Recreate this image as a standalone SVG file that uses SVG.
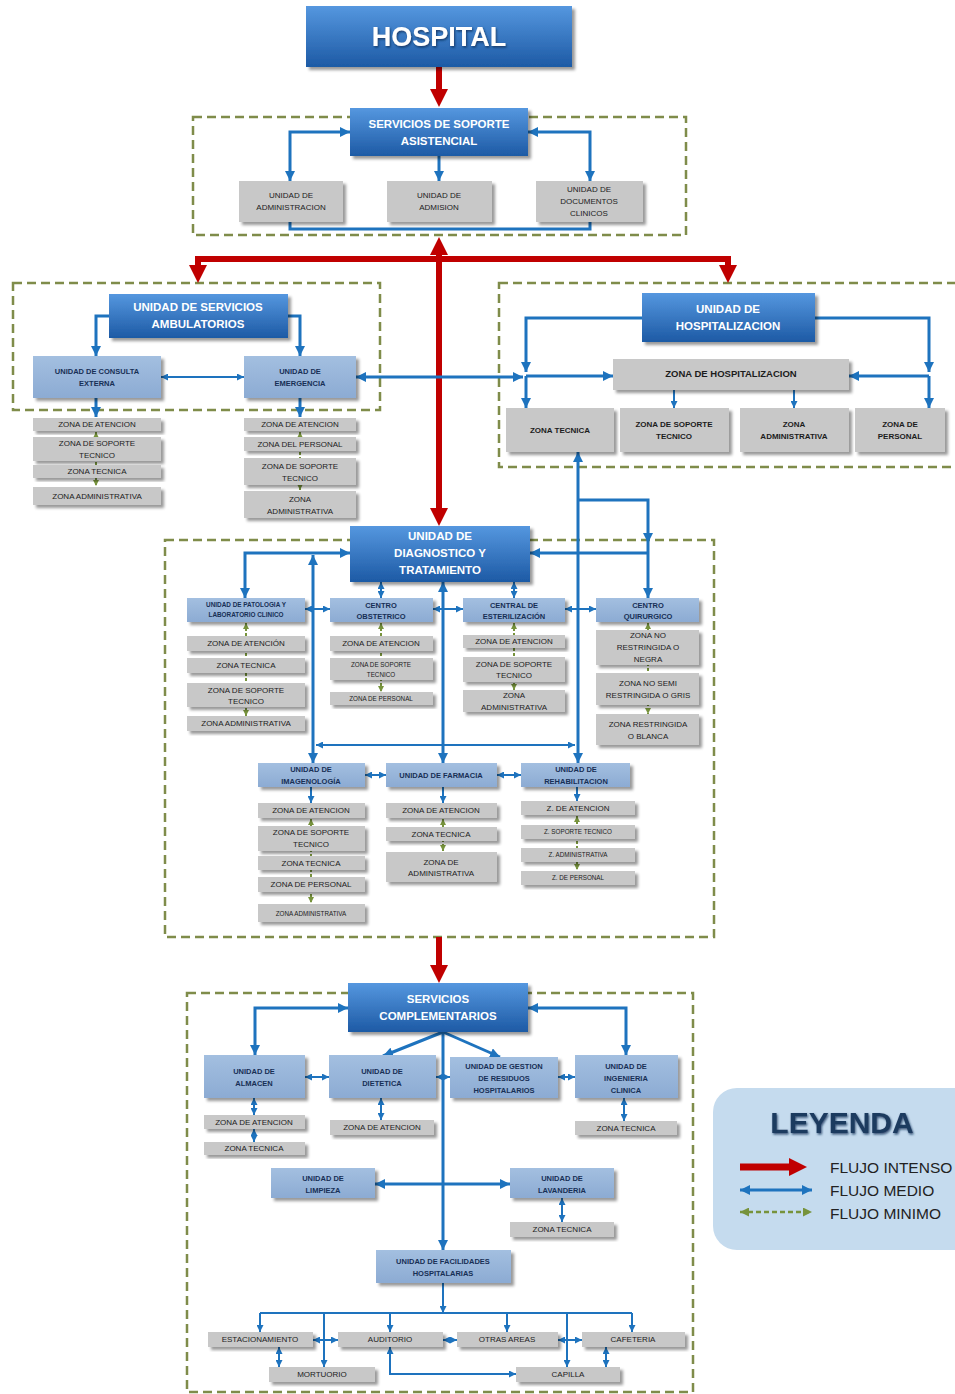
<svg xmlns="http://www.w3.org/2000/svg" width="955" height="1394" viewBox="0 0 955 1394">
<defs>
<linearGradient id="gdk" x1="0" y1="0" x2="0" y2="1"><stop offset="0" stop-color="#5597df"/><stop offset="1" stop-color="#1d5aa5"/></linearGradient>
<linearGradient id="glb" x1="0" y1="0" x2="0" y2="1"><stop offset="0" stop-color="#a3bfe0"/><stop offset="1" stop-color="#8cabd3"/></linearGradient>
<filter id="sh" x="-10%" y="-10%" width="130%" height="140%"><feDropShadow dx="3" dy="3" stdDeviation="1.5" flood-color="#000" flood-opacity="0.4"/></filter>
<filter id="ts" x="-10%" y="-20%" width="130%" height="150%"><feDropShadow dx="1" dy="1.5" stdDeviation="1" flood-color="#0b2a55" flood-opacity="0.8"/></filter>
<marker id="mb" viewBox="0 0 10 10" refX="10" refY="5" markerWidth="10" markerHeight="10" markerUnits="userSpaceOnUse" orient="auto-start-reverse"><path d="M0,0L10,5L0,10z" fill="#1e73be"/></marker>
<marker id="ms" viewBox="0 0 10 10" refX="10" refY="5" markerWidth="7" markerHeight="7" markerUnits="userSpaceOnUse" orient="auto-start-reverse"><path d="M0,0L10,5L0,10z" fill="#1e73be"/></marker>
<marker id="mr" viewBox="0 0 18 18" refX="8" refY="9" markerWidth="18" markerHeight="18" markerUnits="userSpaceOnUse" orient="auto-start-reverse"><path d="M0,0L18,9L0,18z" fill="#c00000"/></marker>
<marker id="mg" viewBox="0 0 10 10" refX="10" refY="5" markerWidth="6" markerHeight="6" markerUnits="userSpaceOnUse" orient="auto-start-reverse"><path d="M0,0L10,5L0,10z" fill="#77933c"/></marker>
<marker id="mgl" viewBox="0 0 10 10" refX="10" refY="5" markerWidth="9" markerHeight="9" markerUnits="userSpaceOnUse" orient="auto-start-reverse"><path d="M0,0L10,5L0,10z" fill="#77933c"/></marker>
</defs>
<style>
text{font-family:"Liberation Sans",Arial,sans-serif;text-anchor:middle}
.dk rect{fill:url(#gdk);filter:url(#sh)}
.dk text{font-weight:bold;font-size:11.5px;fill:#fff}
.lb rect{fill:url(#glb);filter:url(#sh)}
.lb text{font-weight:bold;font-size:7.5px;fill:#172f55}
.gr rect{fill:#c8c8c8;filter:url(#sh)}
.gr text{font-size:8px;fill:#1c1c1c}
.gb text{font-weight:bold}
.t6 text{font-size:6.3px}
.cont{fill:none;stroke:#7f8c4a;stroke-width:2.5;stroke-dasharray:9 5}
.b{stroke:#1e73be;stroke-width:3;fill:none}
.bs{stroke:#1e73be;stroke-width:2;fill:none}
.r{stroke:#c00000;stroke-width:6;fill:none}
.g{stroke:#77933c;stroke-width:2;stroke-dasharray:3 2;fill:none}
.me{marker-end:url(#mb)}
.mse{marker-start:url(#mb);marker-end:url(#mb)}
.se{marker-start:url(#ms);marker-end:url(#ms)}
.e{marker-end:url(#ms)}
.re{marker-end:url(#mr)}
.rse{marker-start:url(#mr);marker-end:url(#mr)}
.gse{marker-start:url(#mg);marker-end:url(#mg)}
.lt{text-anchor:start;font-size:15.5px;fill:#222}
</style>
<rect width="955" height="1394" fill="#fff"/>

<g id="containers">
<rect class="cont" x="193" y="117" width="493" height="118"/>
<rect class="cont" x="13" y="283" width="367" height="127"/>
<rect class="cont" x="499" y="283" width="470" height="184"/>
<rect class="cont" x="165" y="540" width="549" height="397"/>
<rect class="cont" x="187" y="993" width="506" height="399"/>
</g>

<g id="connectors">
<path class="r re" d="M439,67V97"/>
<path class="r rse" d="M439,247V516"/>
<path class="r rse" d="M198,273V259H728V273"/>
<path class="r re" d="M439,937V973"/>

<path class="b mse" d="M350,132H290V181"/>
<path class="b mse" d="M528,132H590V181"/>
<path class="b me" d="M439,156V181"/>
<path class="b" d="M290,222V229H590V222"/>

<path class="b me" d="M109,316H96V356"/>
<path class="b me" d="M288,316H300V356"/>
<path class="bs se" d="M161,377H244"/>
<path class="b me" d="M96,398V417"/>
<path class="b me" d="M300,398V417"/>
<path class="b mse" d="M356,377H523"/>
<path class="b me" d="M526,376H613"/>
<path class="b me" d="M642,318H526V372"/>
<path class="b me" d="M526,376V408"/>
<path class="b me" d="M815,318H929V372"/>
<path class="b me" d="M929,376H849"/>
<path class="b me" d="M929,376V408"/>
<path class="bs e" d="M674,390V408"/>
<path class="bs e" d="M794,390V408"/>

<path class="b mse" d="M578,452V763"/>
<path class="b me" d="M578,500H648V543"/>
<path class="b me" d="M648,543V598"/>
<path class="b me" d="M648,553H530"/>
<path class="b mse" d="M350,553H245V598"/>
<path class="b mse" d="M313,555V763"/>
<path class="bs se" d="M316,745H575"/>
<path class="b mse" d="M443,582V763"/>
<path class="bs se" d="M381,582V598"/>
<path class="bs se" d="M514,582V598"/>
<path class="bs se" d="M305,609H330"/>
<path class="bs se" d="M433,609H463"/>
<path class="bs se" d="M565,609H596"/>
<path class="bs se" d="M365,775H386"/>
<path class="bs se" d="M497,775H521"/>
<path class="bs e" d="M311,787V803"/>
<path class="bs e" d="M443,787V803"/>
<path class="bs e" d="M577,787V801"/>

<path class="g gse" d="M96,432V486"/>
<path class="g gse" d="M300,432V490"/>
<path class="g gse" d="M246,623V716"/>
<path class="g gse" d="M381,623V692"/>
<path class="g gse" d="M514,623V690"/>
<path class="g gse" d="M648,623V714"/>
<path class="g gse" d="M311,819V903"/>
<path class="g gse" d="M443,819V851"/>
<path class="g gse" d="M577,816V870"/>

<path class="b mse" d="M348,1008H255V1055"/>
<path class="b mse" d="M528,1008H626V1055"/>
<path class="b me" d="M443,1032L383,1056"/>
<path class="b me" d="M443,1032L500,1057"/>
<path class="b me" d="M443,1032V1250"/>
<path class="bs se" d="M305,1077H329"/>
<path class="bs se" d="M436,1077H450"/>
<path class="bs se" d="M558,1077H575"/>
<path class="bs se" d="M254,1098V1115"/>
<path class="bs se" d="M254,1129V1142"/>
<path class="bs se" d="M381,1098V1120"/>
<path class="bs se" d="M624,1098V1121"/>
<path class="b mse" d="M375,1184H510"/>
<path class="bs se" d="M562,1198V1222"/>
<path class="bs e" d="M443,1283V1313"/>
<path class="bs" d="M260,1313H632"/>
<path class="bs e" d="M260,1313V1332"/>
<path class="bs e" d="M390,1313V1332"/>
<path class="bs e" d="M507,1313V1332"/>
<path class="bs e" d="M632,1313V1332"/>
<path class="bs e" d="M324,1313V1367"/>
<path class="bs e" d="M567,1313V1367"/>
<path class="bs se" d="M313,1340H338"/>
<path class="bs se" d="M443,1340H457"/>
<path class="bs se" d="M558,1340H582"/>
<path class="bs se" d="M279,1347V1367"/>
<path class="bs se" d="M390,1347V1374H516"/>
<path class="bs se" d="M606,1347V1367"/>
</g>

<g id="hospital" class="dk"><rect x="306" y="6" width="266" height="61"/><text x="439" y="46" style="font-size:27px;filter:url(#ts)">HOSPITAL</text></g>
<g id="ssa" class="dk"><rect x="350" y="108" width="178" height="48"/><text x="439" y="128">SERVICIOS DE SOPORTE</text><text x="439" y="145">ASISTENCIAL</text></g>
<g id="u-admin" class="gr"><rect x="239" y="181" width="104" height="41"/><text x="291" y="198">UNIDAD DE</text><text x="291" y="210">ADMINISTRACION</text></g>
<g id="u-admision" class="gr"><rect x="387" y="181" width="105" height="41"/><text x="439" y="198">UNIDAD DE</text><text x="439" y="210">ADMISION</text></g>
<g id="u-docs" class="gr"><rect x="536" y="181" width="107" height="41"/><text x="589" y="192">UNIDAD DE</text><text x="589" y="204">DOCUMENTOS</text><text x="589" y="216">CLINICOS</text></g>

<g id="usa" class="dk"><rect x="109" y="294" width="179" height="44"/><text x="198" y="311">UNIDAD DE SERVICIOS</text><text x="198" y="328">AMBULATORIOS</text></g>
<g id="consulta" class="lb"><rect x="33" y="356" width="128" height="42"/><text x="97" y="374">UNIDAD DE CONSULTA</text><text x="97" y="386">EXTERNA</text></g>
<g id="emergencia" class="lb"><rect x="244" y="356" width="112" height="42"/><text x="300" y="374">UNIDAD DE</text><text x="300" y="386">EMERGENCIA</text></g>
<g id="ce-za" class="gr"><rect x="33" y="418" width="128" height="13"/><text x="97" y="427">ZONA DE ATENCION</text></g>
<g id="ce-zst" class="gr"><rect x="33" y="437" width="128" height="24"/><text x="97" y="446">ZONA DE SOPORTE</text><text x="97" y="458">TECNICO</text></g>
<g id="ce-zt" class="gr"><rect x="33" y="465" width="128" height="13"/><text x="97" y="474">ZONA TECNICA</text></g>
<g id="ce-zadm" class="gr"><rect x="33" y="487" width="128" height="18"/><text x="97" y="499">ZONA ADMINISTRATIVA</text></g>
<g id="em-za" class="gr"><rect x="244" y="418" width="112" height="13"/><text x="300" y="427">ZONA DE ATENCION</text></g>
<g id="em-zp" class="gr"><rect x="244" y="437" width="112" height="14"/><text x="300" y="447">ZONA DEL PERSONAL</text></g>
<g id="em-zst" class="gr"><rect x="244" y="458" width="112" height="27"/><text x="300" y="469">ZONA DE SOPORTE</text><text x="300" y="481">TECNICO</text></g>
<g id="em-zadm" class="gr"><rect x="244" y="491" width="112" height="27"/><text x="300" y="502">ZONA</text><text x="300" y="514">ADMINISTRATIVA</text></g>

<g id="uh" class="dk"><rect x="642" y="293" width="173" height="49"/><text x="728" y="313">UNIDAD DE</text><text x="728" y="330">HOSPITALIZACION</text></g>
<g id="zh" class="gr gb"><rect x="613" y="359" width="236" height="31"/><text x="731" y="377" style="font-size:9.5px">ZONA DE HOSPITALIZACION</text></g>
<g id="h-zt" class="gr gb"><rect x="506" y="408" width="108" height="44"/><text x="560" y="433">ZONA TECNICA</text></g>
<g id="h-zst" class="gr gb"><rect x="620" y="408" width="109" height="44"/><text x="674" y="427">ZONA DE SOPORTE</text><text x="674" y="439">TECNICO</text></g>
<g id="h-zadm" class="gr gb"><rect x="740" y="408" width="109" height="44"/><text x="794" y="427">ZONA</text><text x="794" y="439">ADMINISTRATIVA</text></g>
<g id="h-zp" class="gr gb"><rect x="855" y="408" width="90" height="44"/><text x="900" y="427">ZONA DE</text><text x="900" y="439">PERSONAL</text></g>

<g id="udt" class="dk"><rect x="350" y="526" width="180" height="56"/><text x="440" y="540">UNIDAD DE</text><text x="440" y="557">DIAGNOSTICO Y</text><text x="440" y="574">TRATAMIENTO</text></g>
<g id="patologia" class="lb"><rect x="187" y="598" width="118" height="24"/><text x="246" y="607" style="font-size:6.4px">UNIDAD DE PATOLOGIA Y</text><text x="246" y="617" style="font-size:6.4px">LABORATORIO CLINICO</text></g>
<g id="obstetrico" class="lb"><rect x="330" y="598" width="103" height="24"/><text x="381" y="608">CENTRO</text><text x="381" y="619">OBSTETRICO</text></g>
<g id="esterilizacion" class="lb"><rect x="463" y="598" width="102" height="24"/><text x="514" y="608">CENTRAL DE</text><text x="514" y="619">ESTERILIZACIÓN</text></g>
<g id="quirurgico" class="lb"><rect x="596" y="598" width="103" height="24"/><text x="648" y="608">CENTRO</text><text x="648" y="619">QUIRURGICO</text></g>

<g id="pa-za" class="gr"><rect x="187" y="636" width="118" height="15"/><text x="246" y="646">ZONA DE ATENCIÓN</text></g>
<g id="pa-zt" class="gr"><rect x="187" y="658" width="118" height="15"/><text x="246" y="668">ZONA TECNICA</text></g>
<g id="pa-zst" class="gr"><rect x="187" y="683" width="118" height="24"/><text x="246" y="693">ZONA DE SOPORTE</text><text x="246" y="704">TECNICO</text></g>
<g id="pa-zadm" class="gr"><rect x="187" y="716" width="118" height="15"/><text x="246" y="726">ZONA  ADMINISTRATIVA</text></g>
<g id="ob-za" class="gr"><rect x="330" y="636" width="103" height="15"/><text x="381" y="646">ZONA DE ATENCION</text></g>
<g id="ob-zst" class="gr t6"><rect x="330" y="658" width="103" height="22"/><text x="381" y="667">ZONA DE SOPORTE</text><text x="381" y="677">TECNICO</text></g>
<g id="ob-zp" class="gr t6"><rect x="330" y="692" width="103" height="13"/><text x="381" y="701">ZONA DE PERSONAL</text></g>
<g id="es-za" class="gr"><rect x="463" y="635" width="102" height="13"/><text x="514" y="644">ZONA DE ATENCION</text></g>
<g id="es-zst" class="gr"><rect x="463" y="657" width="102" height="25"/><text x="514" y="667">ZONA DE SOPORTE</text><text x="514" y="678">TECNICO</text></g>
<g id="es-zadm" class="gr"><rect x="463" y="690" width="102" height="22"/><text x="514" y="698">ZONA</text><text x="514" y="710">ADMINISTRATIVA</text></g>
<g id="qu-znr" class="gr"><rect x="596" y="630" width="103" height="35"/><text x="648" y="638">ZONA NO</text><text x="648" y="650">RESTRINGIDA O</text><text x="648" y="662">NEGRA</text></g>
<g id="qu-zns" class="gr"><rect x="596" y="673" width="103" height="32"/><text x="648" y="686">ZONA NO SEMI</text><text x="648" y="698">RESTRINGIDA O GRIS</text></g>
<g id="qu-zr" class="gr"><rect x="596" y="714" width="103" height="31"/><text x="648" y="727">ZONA RESTRINGIDA</text><text x="648" y="739">O BLANCA</text></g>

<g id="imagenologia" class="lb"><rect x="258" y="763" width="107" height="24"/><text x="311" y="772">UNIDAD DE</text><text x="311" y="784">IMAGENOLOGÍA</text></g>
<g id="farmacia" class="lb"><rect x="386" y="763" width="111" height="24"/><text x="441" y="778">UNIDAD DE FARMACIA</text></g>
<g id="rehabilitacion" class="lb"><rect x="521" y="763" width="109" height="24"/><text x="576" y="772">UNIDAD DE</text><text x="576" y="784">REHABILITACION</text></g>
<g id="im-za" class="gr"><rect x="258" y="803" width="107" height="15"/><text x="311" y="813">ZONA DE ATENCION</text></g>
<g id="im-zst" class="gr"><rect x="258" y="826" width="107" height="25"/><text x="311" y="835">ZONA DE SOPORTE</text><text x="311" y="847">TECNICO</text></g>
<g id="im-zt" class="gr"><rect x="258" y="856" width="107" height="14"/><text x="311" y="866">ZONA TECNICA</text></g>
<g id="im-zp" class="gr"><rect x="258" y="877" width="107" height="15"/><text x="311" y="887">ZONA DE PERSONAL</text></g>
<g id="im-zadm" class="gr t6"><rect x="258" y="904" width="107" height="18"/><text x="311" y="916">ZONA ADMINISTRATIVA</text></g>
<g id="fa-za" class="gr"><rect x="386" y="803" width="111" height="15"/><text x="441" y="813">ZONA DE ATENCION</text></g>
<g id="fa-zt" class="gr"><rect x="386" y="827" width="111" height="14"/><text x="441" y="837">ZONA TECNICA</text></g>
<g id="fa-zadm" class="gr"><rect x="386" y="852" width="111" height="30"/><text x="441" y="865">ZONA DE</text><text x="441" y="876">ADMINISTRATIVA</text></g>
<g id="re-za" class="gr"><rect x="521" y="801" width="114" height="14"/><text x="578" y="811">Z. DE ATENCION</text></g>
<g id="re-zst" class="gr t6"><rect x="521" y="825" width="114" height="14"/><text x="578" y="834">Z. SOPORTE TECNICO</text></g>
<g id="re-zadm" class="gr t6"><rect x="521" y="848" width="114" height="14"/><text x="578" y="857">Z. ADMINISTRATIVA</text></g>
<g id="re-zp" class="gr t6"><rect x="521" y="871" width="114" height="14"/><text x="578" y="880">Z. DE PERSONAL</text></g>

<g id="sc" class="dk"><rect x="348" y="983" width="180" height="49"/><text x="438" y="1003">SERVICIOS</text><text x="438" y="1020">COMPLEMENTARIOS</text></g>
<g id="almacen" class="lb"><rect x="204" y="1055" width="101" height="43"/><text x="254" y="1074">UNIDAD DE</text><text x="254" y="1086">ALMACEN</text></g>
<g id="dietetica" class="lb"><rect x="329" y="1055" width="107" height="43"/><text x="382" y="1074">UNIDAD DE</text><text x="382" y="1086">DIETETICA</text></g>
<g id="residuos" class="lb"><rect x="450" y="1057" width="108" height="41"/><text x="504" y="1069">UNIDAD DE GESTION</text><text x="504" y="1081">DE RESIDUOS</text><text x="504" y="1093">HOSPITALARIOS</text></g>
<g id="ingenieria" class="lb"><rect x="575" y="1055" width="103" height="43"/><text x="626" y="1069">UNIDAD DE</text><text x="626" y="1081">INGENIERIA</text><text x="626" y="1093">CLINICA</text></g>
<g id="al-za" class="gr"><rect x="204" y="1115" width="101" height="14"/><text x="254" y="1125">ZONA DE ATENCION</text></g>
<g id="al-zt" class="gr"><rect x="204" y="1142" width="101" height="13"/><text x="254" y="1151">ZONA TECNICA</text></g>
<g id="di-za" class="gr"><rect x="330" y="1120" width="104" height="15"/><text x="382" y="1130">ZONA DE ATENCION</text></g>
<g id="in-zt" class="gr"><rect x="575" y="1121" width="102" height="14"/><text x="626" y="1131">ZONA TECNICA</text></g>
<g id="limpieza" class="lb"><rect x="271" y="1168" width="104" height="30"/><text x="323" y="1181">UNIDAD DE</text><text x="323" y="1193">LIMPIEZA</text></g>
<g id="lavanderia" class="lb"><rect x="510" y="1168" width="104" height="30"/><text x="562" y="1181">UNIDAD DE</text><text x="562" y="1193">LAVANDERIA</text></g>
<g id="la-zt" class="gr"><rect x="510" y="1222" width="104" height="15"/><text x="562" y="1232">ZONA TECNICA</text></g>
<g id="facilidades" class="lb"><rect x="376" y="1250" width="135" height="33"/><text x="443" y="1264">UNIDAD DE FACILIDADES</text><text x="443" y="1276">HOSPITALARIAS</text></g>
<g id="estacionamiento" class="gr"><rect x="208" y="1332" width="105" height="15"/><text x="260" y="1342">ESTACIONAMIENTO</text></g>
<g id="auditorio" class="gr"><rect x="338" y="1332" width="105" height="15"/><text x="390" y="1342">AUDITORIO</text></g>
<g id="otras" class="gr"><rect x="457" y="1332" width="101" height="15"/><text x="507" y="1342">OTRAS AREAS</text></g>
<g id="cafeteria" class="gr"><rect x="582" y="1332" width="103" height="15"/><text x="633" y="1342">CAFETERIA</text></g>
<g id="mortuorio" class="gr"><rect x="269" y="1367" width="106" height="15"/><text x="322" y="1377">MORTUORIO</text></g>
<g id="capilla" class="gr"><rect x="516" y="1367" width="104" height="15"/><text x="568" y="1377">CAPILLA</text></g>

<g id="legend">
<rect x="713" y="1088" width="270" height="162" rx="24" fill="#c5dbee"/>
<text x="842" y="1133" style="font-size:30px;font-weight:bold;fill:#1f3a5f;filter:url(#ts)">LEYENDA</text>
<path class="r re" d="M740,1167H797" style="stroke-width:7"/>
<path class="b mse" d="M740,1190H812"/>
<path d="M740,1212H812" style="stroke:#77933c;stroke-width:2.5;stroke-dasharray:5 3;fill:none;marker-start:url(#mgl);marker-end:url(#mgl)"/>
<text class="lt" x="830" y="1173">FLUJO INTENSO</text>
<text class="lt" x="830" y="1196">FLUJO MEDIO</text>
<text class="lt" x="830" y="1219">FLUJO MINIMO</text>
</g>
</svg>
